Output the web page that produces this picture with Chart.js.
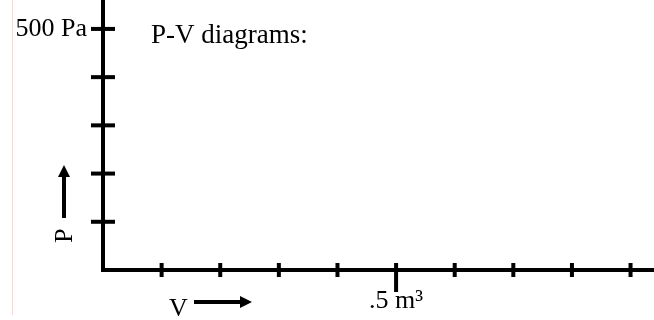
<!DOCTYPE html>
<html lang="en">
<head>
  <meta charset="UTF-8">
  <title>P-V diagrams</title>
  <script src="https://cdn.jsdelivr.net/npm/chart.js"></script>
  <style>
    html, body { margin: 0; padding: 0; background: #fff; }
    #pv { display: block; }
  </style>
</head>
<body>
  <canvas id="pv" width="654" height="320"></canvas>

  <script>
    // axis tick values and the few labelled ones
    const pressureTicks = [100, 200, 300, 400, 500];
    const volumeTicks = [0.1, 0.2, 0.3, 0.4, 0.5, 0.6, 0.7, 0.8, 0.9];
    const pressureLabels = { 500: '500 Pa' };
    const volumeLabels = { 0.5: '.5 m³' };
    const pressureMax = 560;
    const volumeMax = 0.94;

    const serif = 'Liberation Serif, Times New Roman, serif';

    const findLabel = (table, v) => {
      for (const k of Object.keys(table)) {
        if (Math.abs(Number(k) - v) < 1e-6) return table[k];
      }
      return '';
    };

    // tick marks that cross the axis line, plus the arrows and heading
    const pvDecor = {
      id: 'pvDecor',
      afterDraw(chart) {
        const c = chart.ctx;
        const xs = chart.scales.x, ys = chart.scales.y;
        const x0 = chart.chartArea.left, y0 = chart.chartArea.bottom;
        c.save();
        c.strokeStyle = '#000';
        c.fillStyle = '#000';

        // faint page edge
        c.strokeStyle = '#ffd4d4';
        c.lineWidth = 1;
        c.beginPath();
        c.moveTo(12.5, 0);
        c.lineTo(12.5, 315);
        c.stroke();

        c.strokeStyle = '#000';
        c.lineWidth = 4;
        pressureTicks.forEach(v => {
          const y = ys.getPixelForValue(v);
          c.beginPath();
          c.moveTo(x0 - 12, y);
          c.lineTo(x0 + 12, y);
          c.stroke();
        });
        volumeTicks.forEach(v => {
          const x = xs.getPixelForValue(v);
          const down = findLabel(volumeLabels, v) ? 22 : 7;
          c.beginPath();
          c.moveTo(x, y0 - 7);
          c.lineTo(x, y0 + down);
          c.stroke();
        });

        // heading
        c.font = '27px ' + serif;
        c.textAlign = 'left';
        c.textBaseline = 'alphabetic';
        c.fillText('P-V diagrams:', 151, 43);

        // V with arrow
        c.font = '26px ' + serif;
        c.fillText('V', 169, 316);
        c.lineWidth = 4;
        c.beginPath();
        c.moveTo(194, 302);
        c.lineTo(243, 302);
        c.stroke();
        c.beginPath();
        c.moveTo(252, 302);
        c.lineTo(240, 296);
        c.lineTo(240, 308);
        c.closePath();
        c.fill();

        // P with arrow, rotated
        c.save();
        c.translate(72, 243);
        c.rotate(-Math.PI / 2);
        c.fillText('P', 0, 0);
        c.restore();
        c.beginPath();
        c.moveTo(64, 218);
        c.lineTo(64, 174);
        c.stroke();
        c.beginPath();
        c.moveTo(64, 165);
        c.lineTo(58, 177);
        c.lineTo(70, 177);
        c.closePath();
        c.fill();

        c.restore();
      }
    };

    const ctx = document.getElementById('pv').getContext('2d');

    new Chart(ctx, {
      type: 'scatter',
      data: {
        datasets: [{ label: 'cycle', data: [] }]
      },
      options: {
        responsive: false,
        animation: false,
        events: [],
        layout: { padding: 0 },
        plugins: {
          legend: { display: false },
          tooltip: { enabled: false }
        },
        scales: {
          x: {
            type: 'linear',
            min: 0,
            max: volumeMax,
            grid: { drawOnChartArea: false, drawTicks: false },
            border: { display: true, width: 4, color: '#000' },
            ticks: {
              stepSize: 0.1,
              includeBounds: false,
              autoSkip: false,
              maxRotation: 0,
              padding: 16,
              color: '#000',
              font: { family: serif, size: 26 },
              callback: v => findLabel(volumeLabels, v)
            },
            afterFit(scale) {
              scale.height = 50;
              scale.paddingLeft = 0;
              scale.paddingRight = 0;
            }
          },
          y: {
            type: 'linear',
            min: 0,
            max: pressureMax,
            grid: { drawOnChartArea: false, drawTicks: false },
            border: { display: true, width: 4, color: '#000' },
            ticks: {
              stepSize: 100,
              includeBounds: false,
              autoSkip: false,
              padding: 16,
              color: '#000',
              font: { family: serif, size: 26 },
              callback: v => findLabel(pressureLabels, v)
            },
            afterFit(scale) {
              scale.width = 103;
              scale.paddingTop = 0;
              scale.paddingBottom = 0;
            }
          }
        }
      },
      plugins: [pvDecor]
    });
  </script>
</body>
</html>
